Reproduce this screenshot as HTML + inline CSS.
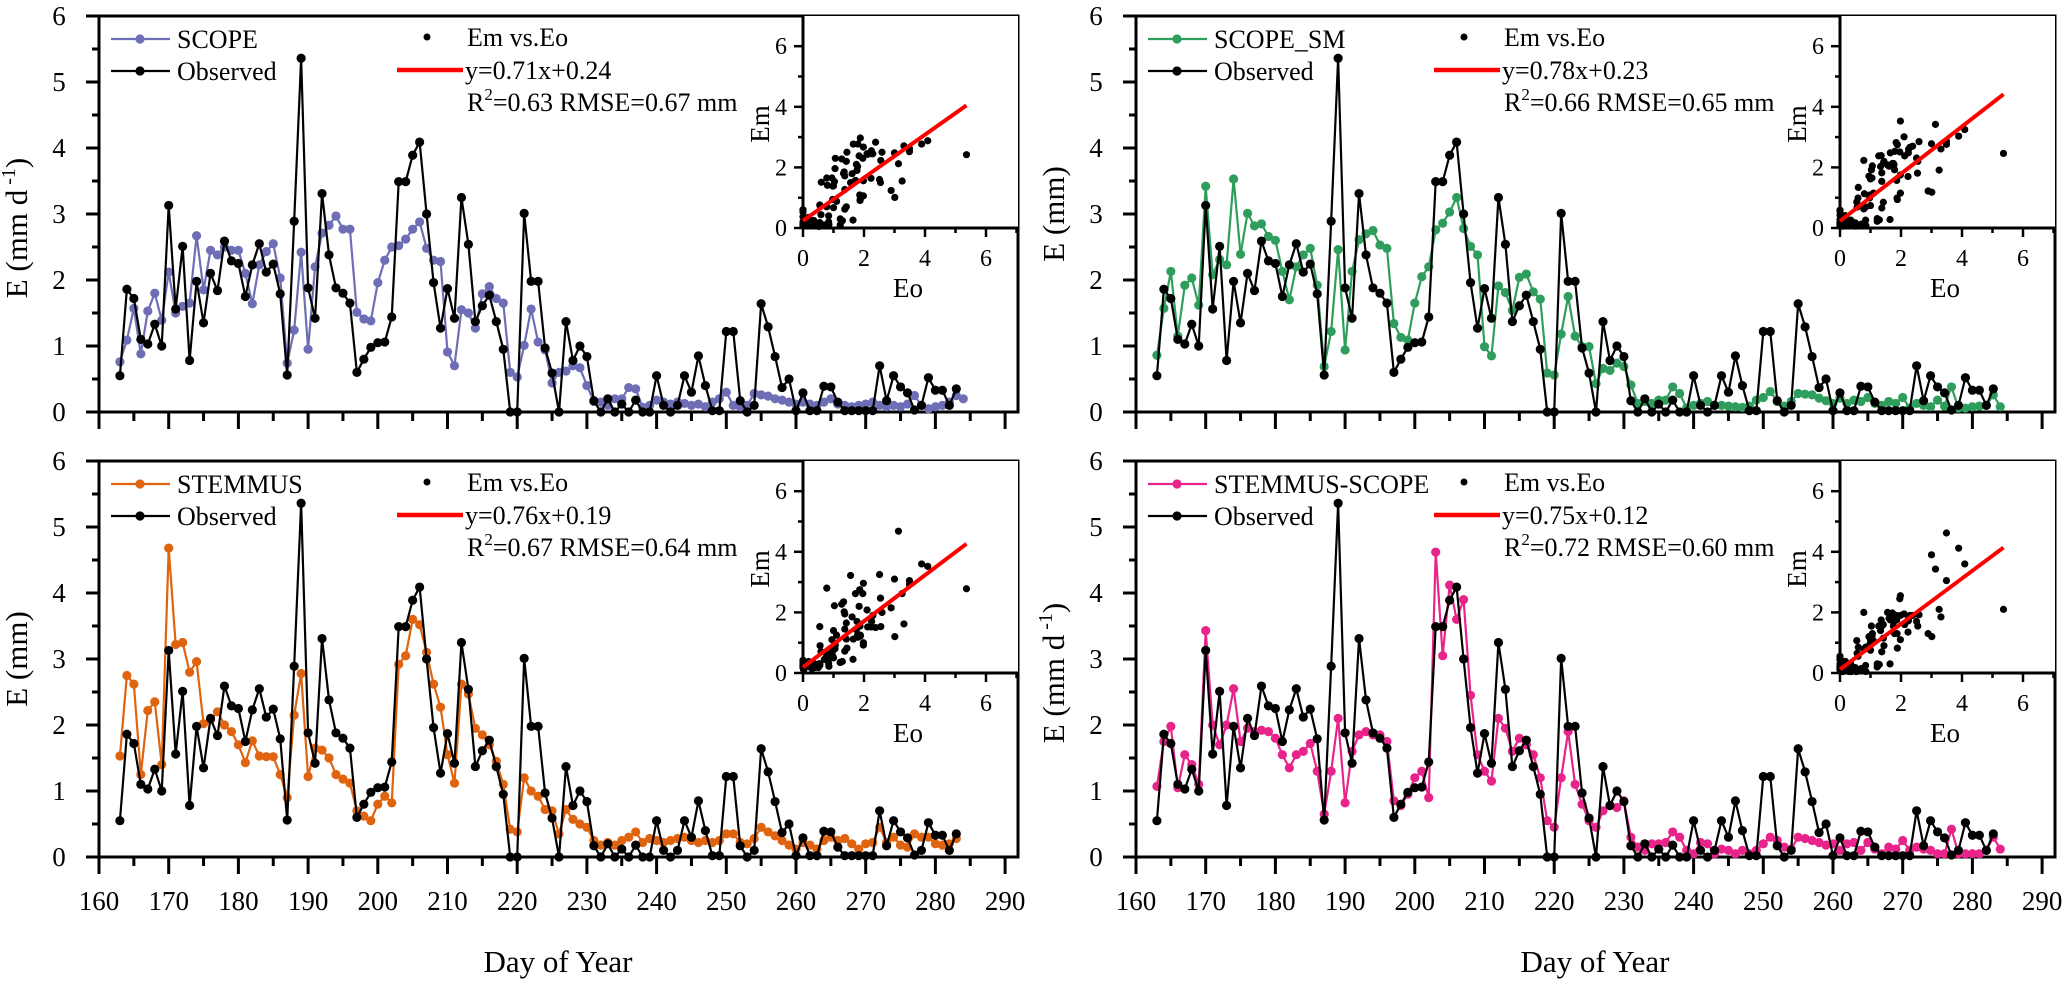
<!DOCTYPE html>
<html><head><meta charset="utf-8"><style>
html,body{margin:0;padding:0;background:#fff;}
svg{display:block;font-family:"Liberation Serif",serif;}
svg text{font-family:"Liberation Serif",serif;}
</style></head><body>
<svg id="chart" width="2067" height="984" viewBox="0 0 2067 984" font-family="Liberation Serif, serif" xmlns="http://www.w3.org/2000/svg"></svg>
<script>
const days = Array.from({length:122},(_,i)=>163+i);
const observed = [0.55,1.86,1.72,1.10,1.03,1.33,1.0,3.13,1.56,2.51,0.78,1.98,1.35,2.1,1.84,2.59,2.29,2.25,1.75,2.23,2.55,2.12,2.24,1.79,0.56,2.89,5.36,1.88,1.42,3.31,2.38,1.88,1.80,1.65,0.60,0.80,0.98,1.05,1.06,1.44,3.49,3.49,3.89,4.09,3.0,1.96,1.27,1.87,1.42,3.25,2.54,1.37,1.61,1.77,1.37,0.95,0.0,0.0,3.01,1.98,1.98,0.97,0.59,0.0,1.37,0.78,1.0,0.84,0.17,0.0,0.2,0.0,0.12,0.0,0.18,0.0,0.0,0.55,0.1,0.0,0.1,0.55,0.3,0.85,0.4,0.02,0.02,1.22,1.22,0.17,0.0,0.1,1.64,1.29,0.84,0.37,0.5,0.02,0.29,0.02,0.02,0.39,0.38,0.15,0.02,0.02,0.02,0.02,0.02,0.7,0.17,0.55,0.38,0.29,0.03,0.1,0.52,0.33,0.33,0.1,0.35];
const scopeE = [0.76,1.09,1.57,0.88,1.53,1.80,1.39,2.12,1.50,1.60,1.65,2.67,1.85,2.45,2.38,2.50,2.45,2.45,2.10,1.64,2.23,2.43,2.55,2.03,0.74,1.24,2.42,0.95,2.20,2.71,2.83,2.97,2.77,2.77,1.51,1.41,1.38,1.96,2.30,2.50,2.52,2.62,2.77,2.88,2.48,2.30,2.28,0.91,0.70,1.55,1.50,1.27,1.79,1.90,1.72,1.65,0.60,0.53,1.01,1.56,1.06,0.94,0.44,0.6,0.62,0.7,0.67,0.4,0.16,0.15,0.1,0.2,0.2,0.37,0.35,0.07,0.1,0.18,0.15,0.12,0.15,0.13,0.1,0.12,0.08,0.15,0.2,0.3,0.1,0.08,0.1,0.28,0.26,0.24,0.2,0.18,0.15,0.12,0.15,0.12,0.1,0.15,0.2,0.12,0.1,0.08,0.1,0.12,0.15,0.1,0.08,0.1,0.08,0.12,0.25,0.1,0.05,0.08,0.1,0.15,0.25,0.2];
const scopeSM = [0.86,1.57,2.13,1.15,1.92,2.03,1.62,3.42,2.08,2.31,2.23,3.53,2.39,3.01,2.82,2.85,2.66,2.6,2.13,1.70,2.2,2.38,2.48,1.92,0.69,1.22,2.46,0.94,2.13,2.61,2.70,2.75,2.53,2.48,1.34,1.13,1.09,1.65,2.05,2.2,2.76,2.86,3.03,3.25,2.78,2.51,2.38,0.99,0.85,1.91,1.81,1.54,2.04,2.09,1.82,1.71,0.59,0.56,1.18,1.75,1.15,0.99,0.99,0.43,0.66,0.63,0.74,0.69,0.41,0.13,0.16,0.13,0.18,0.18,0.38,0.28,0.06,0.1,0.13,0.16,0.1,0.1,0.09,0.08,0.07,0.09,0.18,0.22,0.31,0.16,0.09,0.16,0.28,0.27,0.26,0.21,0.17,0.13,0.21,0.13,0.18,0.16,0.22,0.13,0.1,0.16,0.13,0.22,0.06,0.13,0.1,0.08,0.18,0.09,0.38,0.06,0.06,0.08,0.09,0.1,0.26,0.08];
const stemmus = [1.53,2.75,2.62,1.25,2.22,2.35,1.40,4.68,3.22,3.25,2.80,2.96,2.02,2.08,2.20,2.0,1.90,1.70,1.43,1.76,1.53,1.52,1.52,1.25,0.90,2.15,2.78,1.22,1.65,1.62,1.50,1.25,1.18,1.12,0.70,0.62,0.55,0.80,0.92,0.82,2.92,3.05,3.60,3.52,3.10,2.62,2.27,1.55,1.12,2.62,2.47,1.95,1.85,1.70,1.45,1.10,0.42,0.38,1.20,1.00,0.92,0.72,0.70,0.35,0.72,0.57,0.50,0.45,0.25,0.18,0.22,0.18,0.25,0.30,0.38,0.22,0.28,0.25,0.22,0.25,0.28,0.30,0.25,0.22,0.25,0.22,0.25,0.35,0.35,0.22,0.20,0.28,0.45,0.38,0.32,0.25,0.18,0.12,0.22,0.18,0.12,0.25,0.30,0.25,0.28,0.20,0.12,0.20,0.22,0.45,0.22,0.30,0.18,0.15,0.35,0.30,0.30,0.20,0.18,0.20,0.28];
const stemmusScope = [1.07,1.75,1.98,1.05,1.55,1.4,1.1,3.43,2.0,1.7,2.0,2.55,1.75,1.95,1.9,1.92,1.9,1.8,1.55,1.35,1.55,1.6,1.72,1.3,0.65,1.3,2.1,0.82,1.6,1.85,1.9,1.85,1.85,1.75,0.85,0.78,0.95,1.2,1.3,0.9,4.62,3.05,4.12,3.6,3.9,2.45,1.55,1.3,1.15,2.1,1.95,1.6,1.8,1.7,1.55,1.2,0.55,0.45,1.2,1.9,1.1,0.8,0.55,0.45,0.7,0.78,0.75,0.85,0.3,0.15,0.1,0.2,0.2,0.22,0.38,0.3,0.1,0.05,0.22,0.2,0.05,0.12,0.1,0.05,0.1,0.05,0.1,0.2,0.3,0.25,0.15,0.12,0.3,0.28,0.25,0.22,0.18,0.2,0.1,0.2,0.22,0.1,0.22,0.12,0.05,0.15,0.12,0.25,0.1,0.15,0.12,0.1,0.05,0.05,0.42,0.05,0.05,0.05,0.05,0.1,0.3,0.12];
const modelNames = ["SCOPE","SCOPE_SM","STEMMUS","STEMMUS-SCOPE"];
const modelColors = ["#6e6eb6","#2f9e5c","#e0640f","#e8248b"];
const slopes = [0.71,0.78,0.76,0.75];
const intercepts = [0.24,0.23,0.19,0.12];
const r2Values = ["0.63","0.66","0.67","0.72"];
const rmseValues = ["0.67","0.65","0.64","0.60"];
const yTitles = ["E (mm d","E (mm)","E (mm)","E (mm d"];
const xTicks = [160,170,180,190,200,210,220,230,240,250,260,270,280,290];
const yTicks = [0,1,2,3,4,5,6];
const insetTicks = [0,2,4,6];
const modelSeries = [scopeE, scopeSM, stemmus, stemmusScope];

const svg = document.getElementById('chart');
const NS = 'http://www.w3.org/2000/svg';
const FF = '"Liberation Serif", serif';
function mk(tag, attrs, parent){const e=document.createElementNS(NS,tag);for(const k in attrs)e.setAttribute(k,attrs[k]);if(tag==='text')e.setAttribute('font-family',FF);(parent||svg).appendChild(e);return e;}

const panels = [{x0:99,top:16},{x0:1136,top:16},{x0:99,top:461},{x0:1136,top:461}];
const PXD = 6.97, UNIT = 66, W = 919;

panels.forEach((p,pi)=>{
  const g = mk('g',{});
  
  
  const y0 = p.top + 6*UNIT;
  const xs = d => p.x0 + (d-160)*PXD;
  const ys = v => y0 - v*UNIT;
  const fr = mk('rect',{x:p.x0,y:p.top,width:W,height:6*UNIT,fill:'none',stroke:'#000','stroke-width':3},g);
  
  
  for(let d=160; d<=290; d+=5){
    const major = d%10===0;
    mk('line',{x1:xs(d),x2:xs(d),y1:y0,y2:y0+(major?17:9),stroke:'#000','stroke-width':3},g);
  }
  if(pi>=2){
    xTicks.forEach(t=>{
      const tx = mk('text',{x:xs(t),y:y0+53,'text-anchor':'middle','font-size':27},g);
      tx.textContent = t;
      
      
    });
  }
  for(let v=0; v<=6; v+=0.5){
    const major = Math.abs(v-Math.round(v))<1e-6;
    mk('line',{x1:p.x0,x2:p.x0-(major?13:7),y1:ys(v),y2:ys(v),stroke:'#000','stroke-width':3},g);
  }
  yTicks.forEach(t=>{
    const ty = mk('text',{x:p.x0-40,y:ys(t)+9,'text-anchor':'middle','font-size':27},g);
    ty.textContent = t;
    
    
  });
  const cy = p.top + 3*UNIT + (yTitles[pi]==='E (mm d' ? 14 : 0);
  const yt = mk('text',{x:0,y:0,'text-anchor':'middle','font-size':31,transform:`translate(${p.x0-72},${cy}) rotate(-90)`},g);
  
  
  if(yTitles[pi]==='E (mm d'){
    yt.innerHTML = 'E (mm d<tspan font-size="20" dy="-12"> -1</tspan><tspan dy="12">)</tspan>';
  } else yt.textContent = yTitles[pi];
  if(pi>=2){
    const xt = mk('text',{x:p.x0+459,y:972,'text-anchor':'middle','font-size':31},g);
    xt.textContent = 'Day of  Year';
    
    
  }
  const series = modelSeries[pi];
  const col = modelColors[pi];
  function drawSeries(vals, color, name){
    const sg = mk('g',{},g);
    
    
    const pts = vals.map((v,i)=>xs(days[i])+','+ys(v)).join(' ');
    mk('polyline',{points:pts,fill:'none',stroke:color,'stroke-width':2.2,'stroke-linejoin':'round'},sg);
    vals.forEach((v,i)=>{
      const c = mk('circle',{cx:xs(days[i]),cy:ys(v),r:4.6,fill:color},sg);
      
      
    });
  }
  drawSeries(series, col, 'series-'+modelNames[pi].toLowerCase());
  drawSeries(observed, '#000', 'series-observed');
  const lg = mk('g',{},g);
  
  
  [[modelNames[pi],col,23],['Observed','#000',55]].forEach(([nm,c,dy])=>{
    const ly = p.top+dy;
    mk('line',{x1:p.x0+12,x2:p.x0+71,y1:ly,y2:ly,stroke:c,'stroke-width':2.2},lg);
    mk('circle',{cx:p.x0+41,cy:ly,r:4.6,fill:c},lg);
    const t = mk('text',{x:p.x0+78,y:ly+9,'font-size':26},lg);
    t.textContent = nm;
    
    
  });
  const rg = mk('g',{},g);
  
  
  mk('circle',{cx:p.x0+328,cy:p.top+21,r:3.5,fill:'#000'},rg);
  const t1 = mk('text',{x:p.x0+368,y:p.top+30,'font-size':26},rg); t1.textContent='Em vs.Eo';
  mk('line',{x1:p.x0+298,x2:p.x0+364,y1:p.top+54,y2:p.top+54,stroke:'#f00','stroke-width':4.5},rg);
  const t2 = mk('text',{x:p.x0+366,y:p.top+63,'font-size':26},rg);
  t2.textContent = 'y='+slopes[pi].toFixed(2)+'x+'+intercepts[pi].toFixed(2);
  const t3 = mk('text',{x:p.x0+368,y:p.top+95,'font-size':26},rg);
  t3.innerHTML = 'R<tspan font-size="17" dy="-11">2</tspan><tspan dy="11">='+r2Values[pi]+' RMSE='+rmseValues[pi]+' mm</tspan>';
  const ig = mk('g',{},g);
  
  
  const ix0 = p.x0+704, iy0 = p.top+212, IU = 30.5, IUY = 30.3;
  const ixs = v => ix0 + v*IU, iys = v => iy0 - v*IUY;
  mk('rect',{x:ix0,y:p.top,width:p.x0+W-ix0,height:212,fill:'#fff'},ig);
  mk('line',{x1:ix0,x2:ix0,y1:p.top,y2:iy0,stroke:'#000','stroke-width':3},ig);
  mk('line',{x1:ix0,x2:p.x0+W,y1:iy0,y2:iy0,stroke:'#000','stroke-width':3},ig);
  for(let v=0; v<=7; v++){
    const major = v%2===0;
    mk('line',{x1:ixs(v),x2:ixs(v),y1:iy0,y2:iy0+(major?9:5),stroke:'#000','stroke-width':2.5},ig);
    mk('line',{x1:ix0,x2:ix0-(major?9:5),y1:iys(v),y2:iys(v),stroke:'#000','stroke-width':2.5},ig);
  }
  insetTicks.forEach(t=>{
    const a = mk('text',{x:ixs(t),y:iy0+38,'text-anchor':'middle','font-size':24},ig); a.textContent=t;
    
    
    const b = mk('text',{x:ix0-22,y:iys(t)+8,'text-anchor':'middle','font-size':24},ig); b.textContent=t;
    
    
  });
  const ex = mk('text',{x:ix0+105,y:p.top+281,'text-anchor':'middle','font-size':27},ig); ex.textContent='Eo';
  
  
  const ey = mk('text',{x:0,y:0,'text-anchor':'middle','font-size':27,transform:`translate(${ix0-34},${p.top+108}) rotate(-90)`},ig); ey.textContent='Em';
  
  
  observed.forEach((o,i)=>{
    if(i>=series.length) return;
    const c = mk('circle',{cx:ixs(o),cy:iys(series[i]),r:3.6,fill:'#000'},ig);
    
    
  });
  const maxO = Math.max(...observed);
  const rl = mk('line',{x1:ixs(0),y1:iys(intercepts[pi]),x2:ixs(maxO),y2:iys(intercepts[pi]+slopes[pi]*maxO),stroke:'#f00','stroke-width':4},ig);
  
  
});
</script>
</body></html>
